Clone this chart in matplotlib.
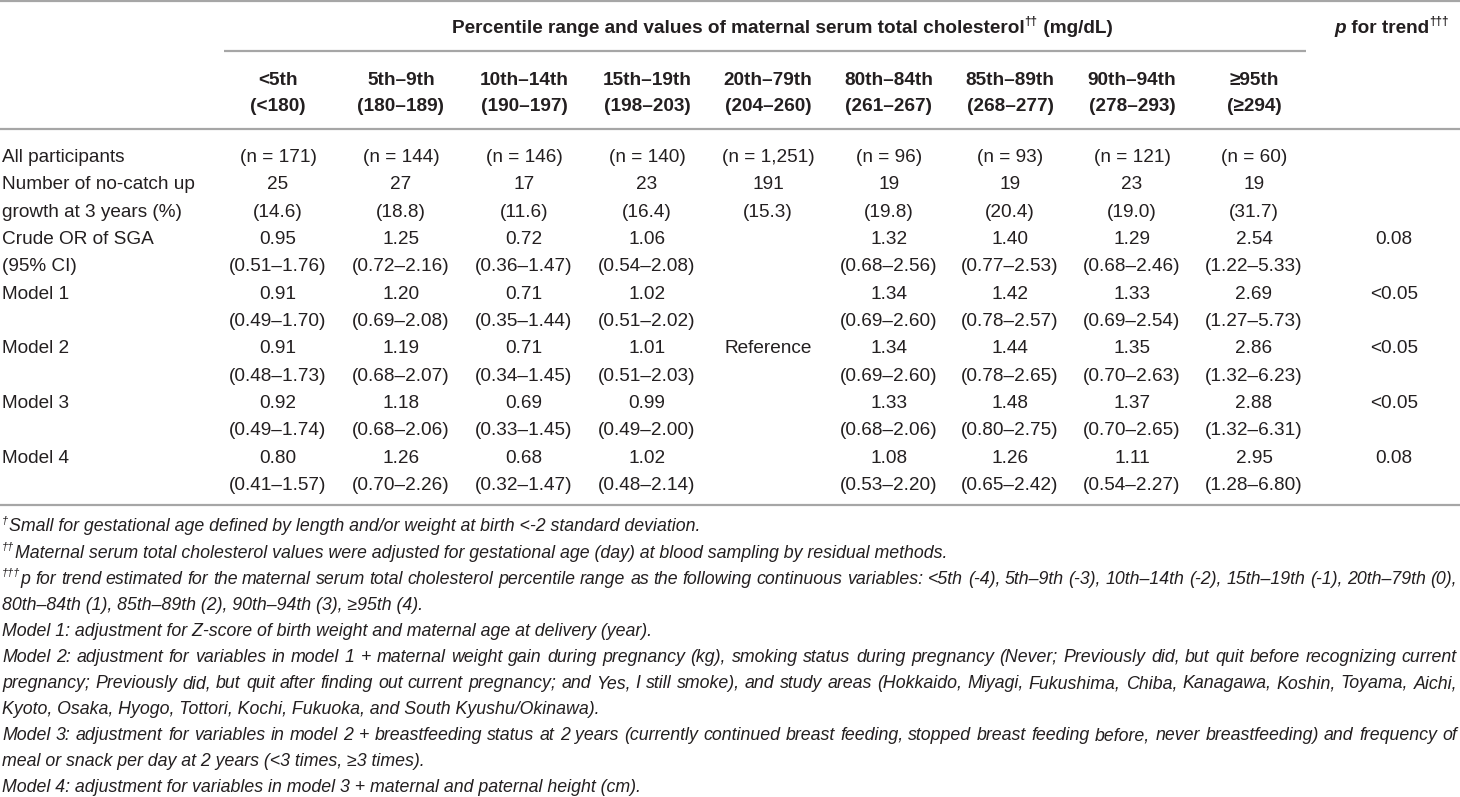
import matplotlib
matplotlib.use("Agg")
import matplotlib.pyplot as plt
from matplotlib import font_manager

# ---------------- data ----------------
col_top = ["<5th", "5th–9th", "10th–14th", "15th–19th", "20th–79th",
           "80th–84th", "85th–89th", "90th–94th", "≥95th"]
col_bottom = ["(<180)", "(180–189)", "(190–197)", "(198–203)", "(204–260)",
              "(261–267)", "(268–277)", "(278–293)", "(≥294)"]
n_all = [171, 144, 146, 140, 1251, 96, 93, 121, 60]
no_catch = [25, 27, 17, 23, 191, 19, 19, 23, 19]
no_catch_pct = [14.6, 18.8, 11.6, 16.4, 15.3, 19.8, 20.4, 19.0, 31.7]

model_names = ["Crude OR of SGA", "Model 1", "Model 2", "Model 3", "Model 4"]
or_crude = [0.95, 1.25, 0.72, 1.06, None, 1.32, 1.40, 1.29, 2.54]
lo_crude = [0.51, 0.72, 0.36, 0.54, None, 0.68, 0.77, 0.68, 1.22]
hi_crude = [1.76, 2.16, 1.47, 2.08, None, 2.56, 2.53, 2.46, 5.33]
or_m1 = [0.91, 1.20, 0.71, 1.02, None, 1.34, 1.42, 1.33, 2.69]
lo_m1 = [0.49, 0.69, 0.35, 0.51, None, 0.69, 0.78, 0.69, 1.27]
hi_m1 = [1.70, 2.08, 1.44, 2.02, None, 2.60, 2.57, 2.54, 5.73]
or_m2 = [0.91, 1.19, 0.71, 1.01, None, 1.34, 1.44, 1.35, 2.86]
lo_m2 = [0.48, 0.68, 0.34, 0.51, None, 0.69, 0.78, 0.70, 1.32]
hi_m2 = [1.73, 2.07, 1.45, 2.03, None, 2.60, 2.65, 2.63, 6.23]
or_m3 = [0.92, 1.18, 0.69, 0.99, None, 1.33, 1.48, 1.37, 2.88]
lo_m3 = [0.49, 0.68, 0.33, 0.49, None, 0.68, 0.80, 0.70, 1.32]
hi_m3 = [1.74, 2.06, 1.45, 2.00, None, 2.06, 2.75, 2.65, 6.31]
or_m4 = [0.80, 1.26, 0.68, 1.02, None, 1.08, 1.26, 1.11, 2.95]
lo_m4 = [0.41, 0.70, 0.32, 0.48, None, 0.53, 0.65, 0.54, 1.28]
hi_m4 = [1.57, 2.26, 1.47, 2.14, None, 2.20, 2.42, 2.27, 6.80]
p_trend = ["0.08", "<0.05", "<0.05", "<0.05", "0.08"]
reference_label = "Reference"

footnotes = [
    ("†", "Small for gestational age defined by length and/or weight at birth <-2 standard deviation.", False),
    ("††", "Maternal serum total cholesterol values were adjusted for gestational age (day) at blood sampling by residual methods.", False),
    ("†††", "p for trend estimated for the maternal serum total cholesterol percentile range as the following continuous variables: <5th (-4), 5th–9th (-3), 10th–14th (-2), 15th–19th (-1), 20th–79th (0),", True),
    ("", "80th–84th (1), 85th–89th (2), 90th–94th (3), ≥95th (4).", False),
    ("", "Model 1: adjustment for Z-score of birth weight and maternal age at delivery (year).", False),
    ("", "Model 2: adjustment for variables in model 1 + maternal weight gain during pregnancy (kg), smoking status during pregnancy (Never; Previously did, but quit before recognizing current", True),
    ("", "pregnancy; Previously did, but quit after finding out current pregnancy; and Yes, I still smoke), and study areas (Hokkaido, Miyagi, Fukushima, Chiba, Kanagawa, Koshin, Toyama, Aichi,", True),
    ("", "Kyoto, Osaka, Hyogo, Tottori, Kochi, Fukuoka, and South Kyushu/Okinawa).", False),
    ("", "Model 3: adjustment for variables in model 2 + breastfeeding status at 2 years (currently continued breast feeding, stopped breast feeding before, never breastfeeding) and frequency of", True),
    ("", "meal or snack per day at 2 years (<3 times, ≥3 times).", False),
    ("", "Model 4: adjustment for variables in model 3 + maternal and paternal height (cm).", False),
]

# ---------------- layout ----------------
W, H = 1460, 797
fig = plt.figure(figsize=(W / 100, H / 100), dpi=100)
ax = fig.add_axes([0, 0, 1, 1])
ax.set_xlim(0, W)
ax.set_ylim(H, 0)
ax.axis("off")
renderer = fig.canvas.get_renderer()

names = {f.name for f in font_manager.fontManager.ttflist}
TFONT = "Liberation Sans" if "Liberation Sans" in names else "DejaVu Sans"
FFONT = "Liberation Sans Narrow" if "Liberation Sans Narrow" in names else TFONT
TXT = "#231f20"
RULE = "#a6a6a6"

EM = 19.0                 # table em in px
TS = EM * 0.72            # points
CAP = 0.36 * EM


def text_w(s, **kw):
    t = ax.text(0, 0, s, **kw)
    w = t.get_window_extent(renderer).width
    t.remove()
    return w


def runs(x, yc, parts, ha="left", em=EM):
    """parts: list of (text, kwargs, superscript_bool)"""
    widths = []
    for s, kw, sup in parts:
        sz = kw.get("size", em * 0.72) * (0.62 if sup else 1.0)
        kk = dict(kw)
        kk["size"] = sz
        widths.append(text_w(s, family=kk.pop("family", TFONT), **kk))
    total = sum(widths)
    if ha == "center":
        x = x - total / 2
    base = yc + 0.36 * em
    for (s, kw, sup), w in zip(parts, widths):
        kk = dict(kw)
        sz = kk.pop("size", em * 0.72) * (0.62 if sup else 1.0)
        fam = kk.pop("family", TFONT)
        yy = base - (0.42 * em if sup else 0)
        ax.text(x, yy, s, size=sz, family=fam, color=TXT, va="baseline", ha="left", **kk)
        x += w + (0.5 if sup else 0)


# rules
ax.plot([0, W], [1.2, 1.2], color=RULE, lw=1.6, solid_capstyle="butt")
ax.plot([224, 1306], [51, 51], color=RULE, lw=1.6, solid_capstyle="butt")
ax.plot([0, W], [128.5, 128.5], color=RULE, lw=1.6, solid_capstyle="butt")
y_rows = [155 + 27.35 * i for i in range(13)]
ax.plot([0, W], [505, 505], color=RULE, lw=1.6, solid_capstyle="butt")

col_x = [278, 401, 524, 647, 768, 889, 1010, 1132, 1254]
p_x = 1394

# header
bold = {"weight": "bold"}
runs(782, 26,
     [("Percentile range and values of maternal serum total cholesterol", bold, False),
      ("††", bold, True),
      (" (mg/dL)", bold, False)], ha="center")
runs(p_x - 2, 26,
     [("p", {"weight": "bold", "style": "italic"}, False),
      (" for trend", bold, False),
      ("†††", bold, True)], ha="center")
for cx, a, b in zip(col_x, col_top, col_bottom):
    ax.text(cx, 78 + CAP, a, ha="center", va="baseline", size=TS, family=TFONT, weight="bold", color=TXT)
    ax.text(cx, 104 + CAP, b, ha="center", va="baseline", size=TS, family=TFONT, weight="bold", color=TXT)


def cell(x, y, s, ha="center"):
    if s:
        ax.text(x, y + CAP, s, ha=ha, va="baseline", size=TS, family=TFONT, color=TXT)


labels = ["All participants", "Number of no-catch up", "growth at 3 years (%)",
          "Crude OR of SGA", "(95% CI)", "Model 1", "", "Model 2", "", "Model 3", "",
          "Model 4", ""]
for y, lab in zip(y_rows, labels):
    cell(2, y, lab, ha="left")

for j, cx in enumerate(col_x):
    cell(cx, y_rows[0], f"(n = {n_all[j]:,})")
    cell(cx, y_rows[1], str(no_catch[j]))
    cell(cx, y_rows[2], f"({no_catch_pct[j]:.1f})")

models = [(or_crude, lo_crude, hi_crude), (or_m1, lo_m1, hi_m1), (or_m2, lo_m2, hi_m2),
          (or_m3, lo_m3, hi_m3), (or_m4, lo_m4, hi_m4)]
for k, (orv, lo, hi) in enumerate(models):
    r = 3 + 2 * k
    for j, cx in enumerate(col_x):
        if orv[j] is None:
            continue
        cell(cx, y_rows[r], f"{orv[j]:.2f}")
        cell(cx, y_rows[r + 1], f"({lo[j]:.2f}–{hi[j]:.2f})")
    cell(p_x, y_rows[r], p_trend[k])
cell(col_x[4], y_rows[7], reference_label)

# footnotes
FKW = {"style": "italic", "family": FFONT}
base_size = 12.0
w5 = text_w(footnotes[4][1], size=base_size, **FKW)
FS = base_size * 652 / w5
FEM = FS / 0.72
R_EDGE = 1457
foot_y = [525 + 26.1 * i for i in range(len(footnotes))]
for y, (pre, body, just) in zip(foot_y, footnotes):
    base = y + 0.36 * FEM
    x = 2
    if pre:
        ax.text(x, base - 0.42 * FEM, pre, size=FS * 0.62, color=TXT, va="baseline", **FKW)
        x += text_w(pre, size=FS * 0.62, **FKW) + 0.5
    if not just:
        ax.text(x, base, body, size=FS, color=TXT, va="baseline", **FKW)
    else:
        words = body.split(" ")
        ws = [text_w(wd, size=FS, **FKW) for wd in words]
        gap = (R_EDGE - x - sum(ws)) / (len(words) - 1)
        for wd, ww in zip(words, ws):
            ax.text(x, base, wd, size=FS, color=TXT, va="baseline", **FKW)
            x += ww + gap

fig.savefig("out.png", dpi=100)
